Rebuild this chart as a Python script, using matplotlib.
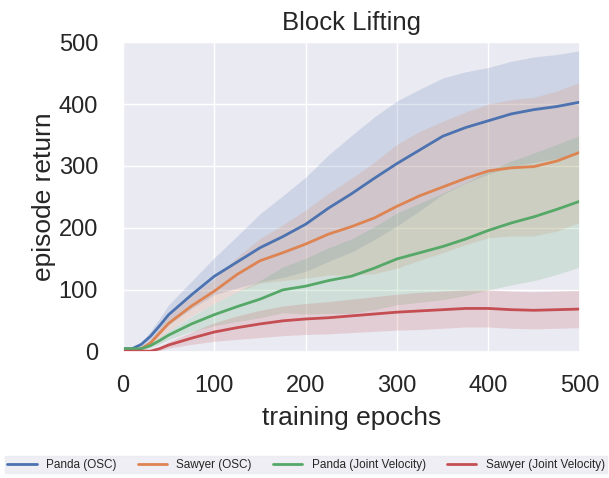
import matplotlib
matplotlib.use('Agg')
import matplotlib.pyplot as plt
import seaborn as sns
import numpy as np

epochs = [0, 10, 20, 30, 40, 50, 75, 100, 125, 150, 175, 200, 225, 250,
          275, 300, 325, 350, 375, 400, 425, 450, 475, 500]

panda_osc = [5, 5, 12, 25, 42, 60, 92, 122, 145, 168, 186, 206, 232, 255,
             280, 304, 326, 348, 362, 373, 384, 391, 396, 403]
panda_osc_std = [0, 1, 4, 8, 12, 16, 22, 30, 42, 55, 66, 76, 86, 94,
                 99, 101, 98, 94, 90, 86, 85, 85, 84, 83]

sawyer_osc = [3, 3, 5, 14, 30, 46, 74, 98, 125, 147, 160, 174, 190, 202,
              216, 235, 252, 266, 280, 292, 297, 299, 308, 322]
sawyer_osc_std = [0, 1, 3, 6, 9, 12, 16, 20, 28, 36, 45, 55, 66, 78,
                  90, 100, 104, 106, 107, 108, 110, 112, 113, 113]

panda_jv = [5, 5, 5, 10, 18, 27, 45, 60, 73, 85, 100, 106, 115, 122,
            135, 150, 160, 170, 182, 196, 208, 218, 230, 243]
panda_jv_std = [0, 0, 1, 3, 5, 7, 12, 18, 24, 30, 37, 45, 53, 60,
                67, 74, 80, 86, 91, 96, 100, 103, 105, 106]

sawyer_jv = [1, 1, 1, 1, 5, 11, 22, 32, 39, 45, 50, 53, 55, 58,
             61, 64, 66, 68, 70, 70, 68, 67, 68, 69]
sawyer_jv_std = [0, 0, 0, 1, 3, 5, 10, 15, 19, 22, 24, 25, 26, 27,
                 28, 29, 30, 30, 30, 30, 30, 30, 30, 30]

labels = ['Panda (OSC)', 'Sawyer (OSC)', 'Panda (Joint Velocity)', 'Sawyer (Joint Velocity)']
colors = ['#4c72b0', '#dd8452', '#55a868', '#c44e52']

sns.set_theme(style='darkgrid')
plt.rcParams['font.family'] = ['Liberation Sans', 'DejaVu Sans']

fig = plt.figure(figsize=(6.09, 4.78), dpi=100)
ax = fig.add_axes([0.202, 0.264, 0.750, 0.648])

x = np.array(epochs)
series = [(panda_osc, panda_osc_std), (sawyer_osc, sawyer_osc_std),
          (panda_jv, panda_jv_std), (sawyer_jv, sawyer_jv_std)]
for (mean, std), label, color in zip(series, labels, colors):
    mean = np.array(mean)
    std = np.array(std)
    ax.fill_between(x, mean - std, mean + std, color=color, alpha=0.18, linewidth=0)
    ax.plot(x, mean, color=color, lw=2, label=label)

ax.set_xlim(0, 500)
ax.set_ylim(0, 500)
ax.set_xticks([0, 100, 200, 300, 400, 500])
ax.set_yticks([0, 100, 200, 300, 400, 500])
ax.tick_params(axis='x', labelsize=17, pad=11)
ax.tick_params(axis='y', labelsize=17, pad=12)
ax.set_xlabel('training epochs', fontsize=19, labelpad=6)
ax.set_ylabel('episode return', fontsize=19, labelpad=2)
ax.set_title('Block Lifting', fontsize=18.5, pad=9)

fig.legend(loc='lower left', bbox_to_anchor=(0.008, 0.01, 0.989, 0.035), mode='expand',
           ncol=4, fontsize=8.5, frameon=True, facecolor='#eaeaf2', edgecolor='#eaeaf2',
           fancybox=False, handlelength=2.5, borderaxespad=0, borderpad=0.2)

fig.savefig('out.png', dpi=100)
